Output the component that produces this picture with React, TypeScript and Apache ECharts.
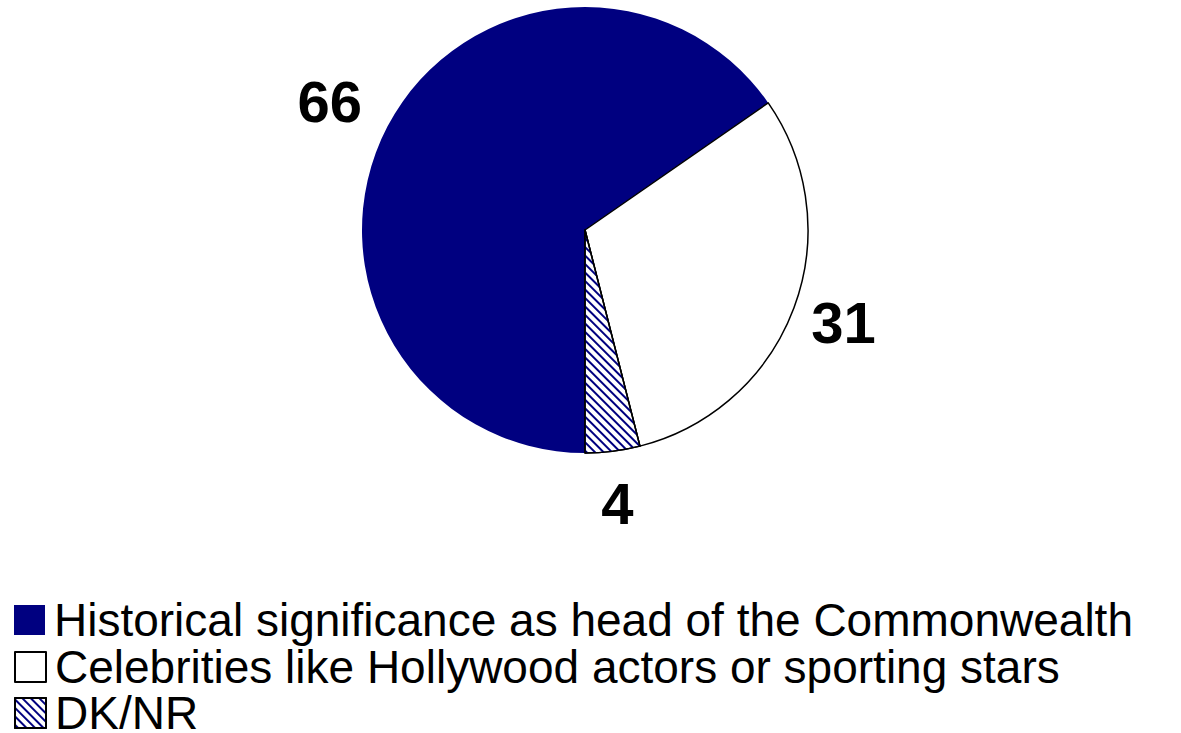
import React, { useEffect, useRef } from "react";
import * as echarts from "echarts";

const categories = [
  "Historical significance as head of the Commonwealth",
  "Celebrities like Hollywood actors or sporting stars",
  "DK/NR",
];
const values = [66, 31, 4];

const NAVY = "#000080";

export default function App() {
  const ref = useRef<HTMLDivElement>(null);
  useEffect(() => {
    document.body.style.margin = "0";
    const chart = echarts.init(ref.current!, null, { renderer: "svg" });
    const styles = [
      { color: NAVY, borderWidth: 0 },
      { color: "#ffffff", borderColor: "#000000", borderWidth: 1.5 },
      {
        color: "#ffffff",
        borderColor: "#000000",
        borderWidth: 1.5,
        decal: {
          symbol: "rect",
          symbolSize: 1,
          color: NAVY,
          backgroundColor: "#ffffff",
          dashArrayX: [1, 0],
          dashArrayY: [2, 4],
          rotation: Math.PI / 4,
        },
      },
    ];
    const labelOffsets = [[-9, 0], [-2, -5], [-2, -2]];
    const rowTops = [597, 644, 690];
    chart.setOption({
      animation: false,
      backgroundColor: "#ffffff",
      legend: categories.map((name, i) => ({
        orient: "vertical",
        left: 14,
        top: rowTops[i],
        padding: 0,
        itemWidth: 31,
        itemHeight: 30,
        icon: "rect",
        selectedMode: false,
        data: [name],
        textStyle: {
          fontFamily: "Liberation Sans",
          fontSize: 46,
          lineHeight: 34,
          color: "#000000",
          padding: [0, 0, 0, 4],
        },
      })),
      series: [
        {
          type: "pie",
          center: [585, 230],
          radius: [0, 223],
          startAngle: 270,
          clockwise: true,
          label: { show: false },
          labelLine: { show: false },
          emphasis: { disabled: true },
          data: categories.map((name, i) => ({
            name,
            value: values[i],
            itemStyle: styles[i],
          })),
        },
        {
          type: "pie",
          center: [585, 230],
          radius: [257, 293],
          startAngle: 270,
          clockwise: true,
          silent: true,
          emphasis: { disabled: true },
          itemStyle: { color: "rgba(0,0,0,0)", borderWidth: 0 },
          labelLine: { show: false },
          label: {
            show: true,
            position: "inside",
            formatter: "{c}",
            fontFamily: "Liberation Sans",
            fontWeight: "bold",
            fontSize: 58,
            color: "#000000",
          },
          data: categories.map((name, i) => ({
            name: name + " ",
            value: values[i],
            label: { offset: labelOffsets[i] },
          })),
        },
      ],
    });
    return () => chart.dispose();
  }, []);
  return <div ref={ref} style={{ width: 1181, height: 733 }} />;
}
